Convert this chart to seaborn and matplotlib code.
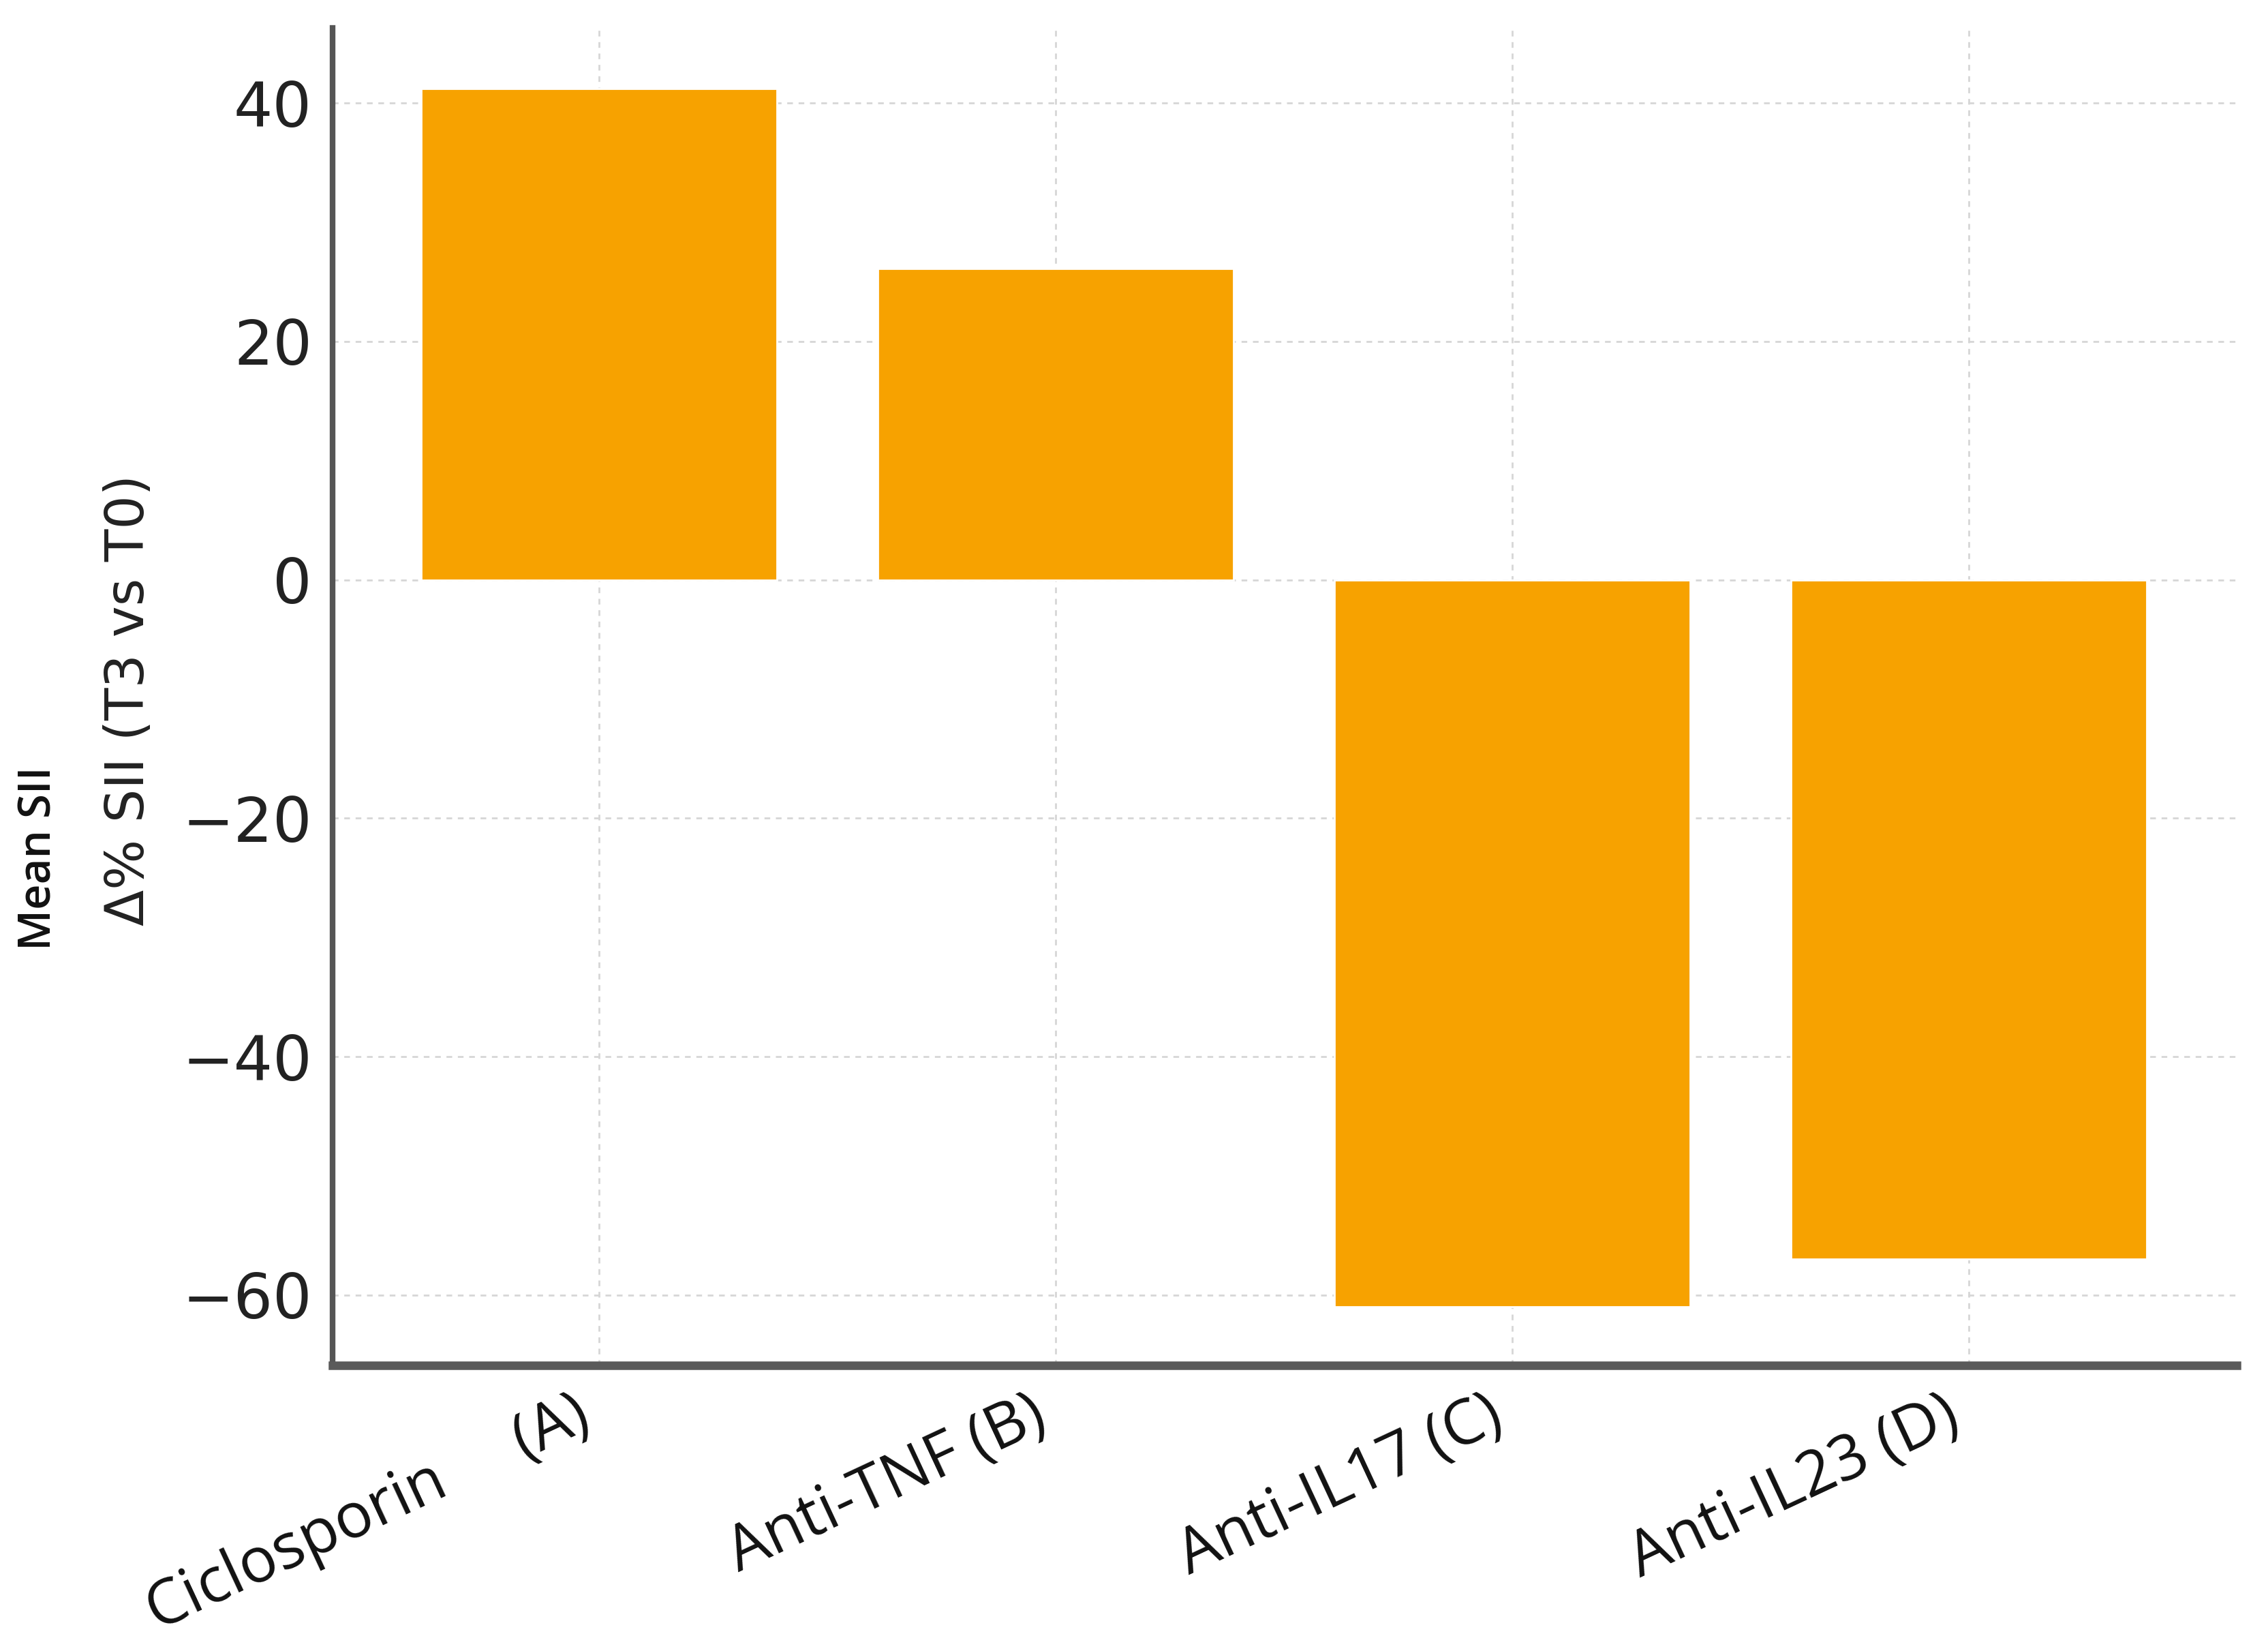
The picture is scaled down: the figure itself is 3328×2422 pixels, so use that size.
import matplotlib
matplotlib.use("Agg")
import matplotlib.pyplot as plt
import seaborn as sns
import pandas as pd

categories = ["Ciclosporin     (A)", "Anti-TNF (B)", "Anti-IL17 (C)", "Anti-IL23 (D)"]
values = [41.2, 26.1, -61.0, -57.0]
yticks = [-60, -40, -20, 0, 20, 40]

df = pd.DataFrame({"group": categories, "delta": values})

sns.set_theme(style="white")
plt.rcParams["font.family"] = ["DejaVu Sans"]

fig = plt.figure(figsize=(16.64, 12.11), dpi=200)
# axes box: left spine x~488px, right end ~3282px, bottom ~2003px, top ~41px
ax = fig.add_axes([0.1466, 0.1730, 0.8396, 0.8101])

sns.barplot(data=df, x="group", y="delta", color="#F7A200", saturation=1,
            width=0.78, ax=ax, zorder=2)

ax.set_xlim(-0.584, 3.587)
ax.set_ylim(-65.9, 46.3)
ax.set_yticks(yticks)
ax.set_yticklabels([f"{t}".replace("-", "\u2212") for t in yticks])

ax.grid(True, linestyle=(0, (3, 3)), color="#d6d6d6", linewidth=1.0, zorder=0)
ax.set_axisbelow(True)

for s in ["top", "right"]:
    ax.spines[s].set_visible(False)
ax.spines["left"].set_color("#555555")
ax.spines["left"].set_linewidth(3.0)
ax.spines["bottom"].set_color("#5a5a5a")
ax.spines["bottom"].set_linewidth(4.5)

ax.tick_params(axis="y", direction="in", length=9, width=1.8, colors="#555555",
               labelcolor="#222222", labelsize=32.5, pad=10.8)
ax.tick_params(axis="x", direction="in", length=9, width=1.6, colors="#555555",
               labelcolor="#111111", pad=10)
for lab in ax.get_xticklabels():
    lab.set_rotation(25)
    lab.set_ha("right")
    lab.set_fontsize(33)
    lab.set_family(["Open Sans", "DejaVu Sans"])

ax.set_xlabel("")
ax.set_ylabel("")

fig.text(0.0568, 0.576, "\u0394% SII (T3 vs T0)", rotation=90, ha="center", va="center",
         fontsize=28, color="#222222")
fig.text(0.0174, 0.480, "Mean SII", rotation=90, ha="center", va="center",
         fontsize=23.5, fontweight="semibold", color="#111111",
         family=["Open Sans", "DejaVu Sans"])

fig.savefig("out.png", dpi=200, facecolor="white")
